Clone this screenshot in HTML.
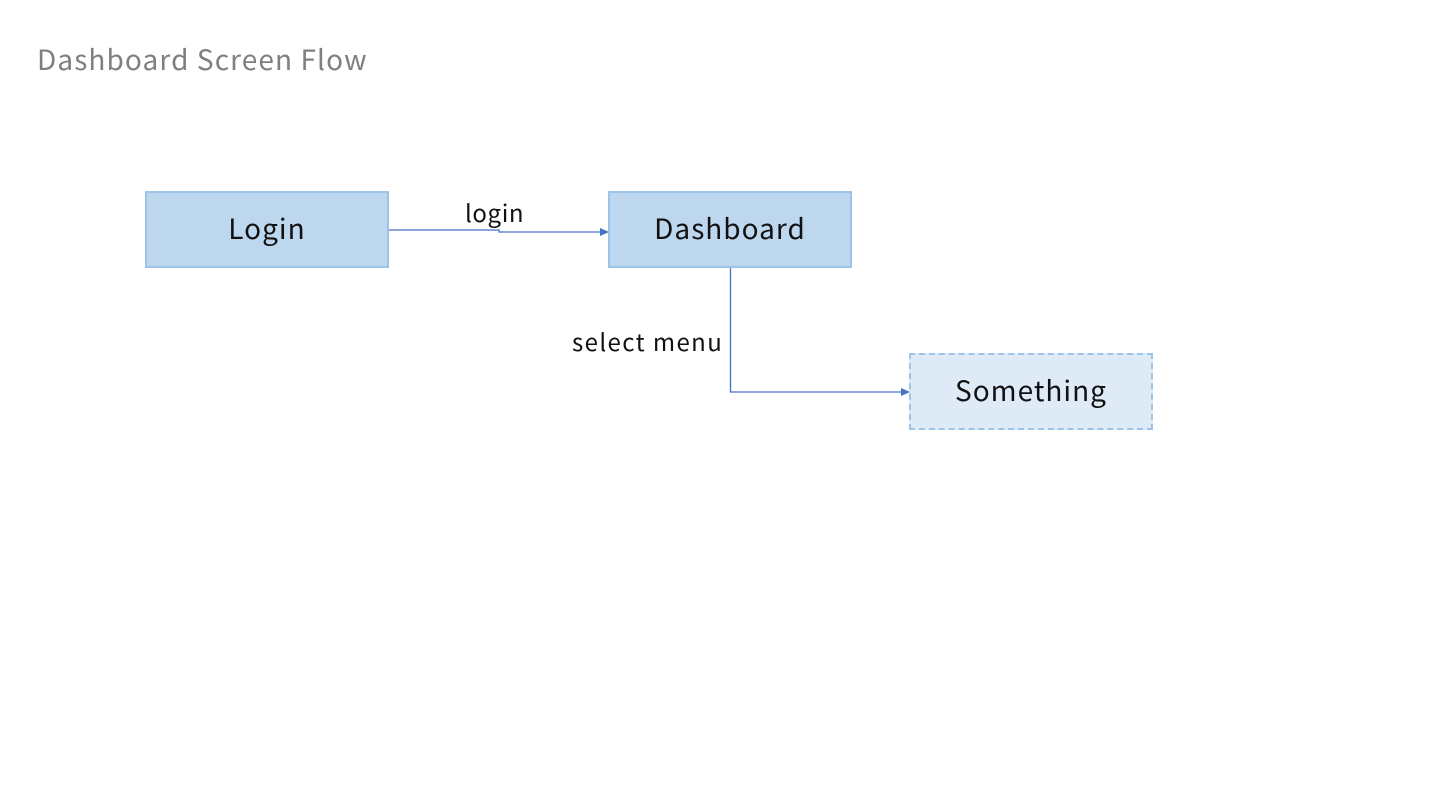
<!DOCTYPE html>
<html><head><meta charset="utf-8"><style>
body{margin:0;width:1440px;height:810px;background:#fff;position:relative;overflow:hidden;font-family:"Noto Sans CJK JP","Liberation Sans",sans-serif;}
.t{position:absolute;white-space:nowrap;line-height:1;}
.box{position:absolute;box-sizing:border-box;width:244px;height:77px;background:#bdd7ee;border:2px solid #9dc3e6;display:flex;align-items:center;justify-content:center;font-size:28px;color:#111;letter-spacing:1px;padding-bottom:3px;}
</style></head><body>
<div class="t" style="left:37px;top:45px;font-size:28px;color:#7f7f7f;letter-spacing:1.1px;">Dashboard Screen Flow</div>
<div class="box" style="left:145px;top:191px;">Login</div>
<div class="box" style="left:608px;top:191px;">Dashboard</div>
<div class="box" style="left:909px;top:353px;background:#deebf7;border:2px dashed #9dc3e6;">Something</div>
<svg width="1440" height="810" style="position:absolute;left:0;top:0">
<polyline points="389,230 499,230 499,232 601,232" fill="none" stroke="#4472c4" stroke-width="1.3"/>
<polygon points="609,232 600,228 600,236" fill="#4472c4"/>
<polyline points="730.5,268 730.5,392 902,392" fill="none" stroke="#4472c4" stroke-width="1.3"/>
<polygon points="910,392 901,388 901,396" fill="#4472c4"/>
</svg>
<div class="t" style="left:465px;top:200px;font-size:24px;color:#111;letter-spacing:0.6px;">login</div>
<div class="t" style="left:572px;top:329px;font-size:24px;color:#111;letter-spacing:1.4px;">select menu</div>
</body></html>
